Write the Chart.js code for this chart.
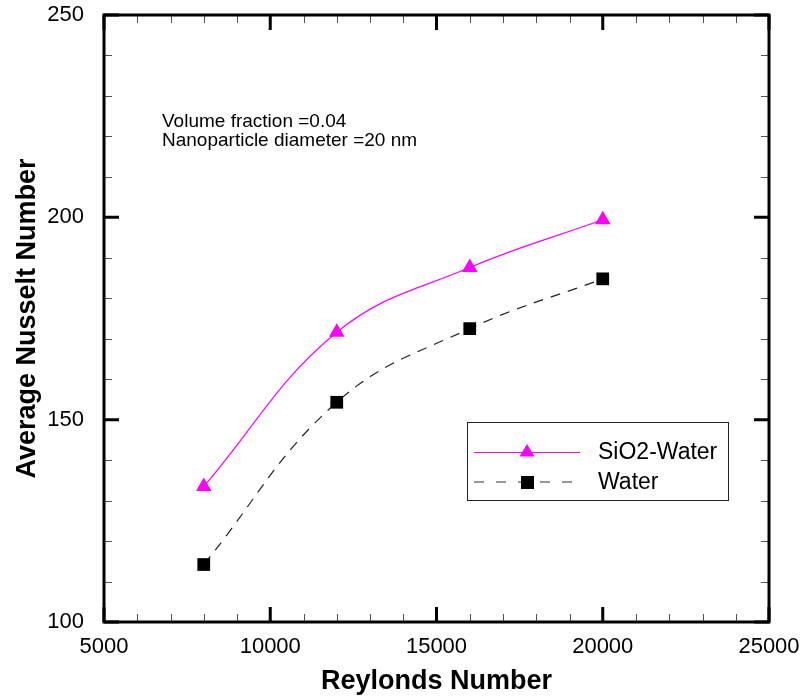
<!DOCTYPE html>
<html>
<head>
<meta charset="utf-8">
<script src="https://cdn.jsdelivr.net/npm/chart.js@4.4.1/dist/chart.umd.min.js"></script>
<style>
  html, body { margin: 0; padding: 0; background: #fff; }
  #wrap { width: 804px; height: 698px; }
</style>
</head>
<body>
<div id="wrap"><canvas id="c" width="804" height="698"></canvas></div>
<script>
const reynolds = [8000, 12000, 16000, 20000];
const nuSiO2Water = [133.5, 171.6, 187.6, 199.4];
const nuWater = [114.2, 154.3, 172.5, 184.8];
const seriesNames = ['SiO2-Water', 'Water'];
const xTickValues = [5000, 10000, 15000, 20000, 25000];
const yTickValues = [100, 150, 200, 250];
const noteLines = ['Volume fraction =0.04', 'Nanoparticle diameter =20 nm'];

const FONT = "'Liberation Sans', Arial, Helvetica, sans-serif";
const MAGENTA = '#ff00ff';

const toPts = (xs, ys) => xs.map((x, i) => ({ x: x, y: ys[i] }));

const framePlugin = {
  id: 'frame',
  afterDatasetsDraw(chart) {
    const ctx = chart.ctx;
    const a = chart.chartArea;
    const xs = chart.scales.x, ys = chart.scales.y;
    ctx.save();
    // minor ticks
    ctx.strokeStyle = '#555';
    ctx.lineWidth = 1;
    ctx.beginPath();
    for (let v = 5000; v <= 25000; v += 1000) {
      if (v % 5000 === 0) continue;
      const px = Math.round(xs.getPixelForValue(v)) + 0.5;
      ctx.moveTo(px, a.bottom); ctx.lineTo(px, a.bottom - 8);
      ctx.moveTo(px, a.top); ctx.lineTo(px, a.top + 8);
    }
    for (let v = 100; v <= 250; v += 10) {
      if (v % 50 === 0) continue;
      const py = Math.round(ys.getPixelForValue(v)) + 0.5;
      ctx.moveTo(a.left, py); ctx.lineTo(a.left + 8, py);
      ctx.moveTo(a.right, py); ctx.lineTo(a.right - 8, py);
    }
    ctx.stroke();
    // major ticks
    ctx.strokeStyle = '#000';
    ctx.lineWidth = 3;
    ctx.beginPath();
    xTickValues.forEach(v => {
      const px = xs.getPixelForValue(v);
      ctx.moveTo(px, a.bottom); ctx.lineTo(px, a.bottom - 15);
      ctx.moveTo(px, a.top); ctx.lineTo(px, a.top + 15);
    });
    yTickValues.forEach(v => {
      const py = ys.getPixelForValue(v);
      ctx.moveTo(a.left, py); ctx.lineTo(a.left + 15, py);
      ctx.moveTo(a.right, py); ctx.lineTo(a.right - 15, py);
    });
    ctx.stroke();
    // frame
    ctx.lineWidth = 3;
    ctx.strokeRect(a.left, a.top, a.right - a.left, a.bottom - a.top);

    // annotation text
    ctx.fillStyle = '#000';
    ctx.font = '19px ' + FONT;
    ctx.textAlign = 'left';
    ctx.textBaseline = 'middle';
    ctx.fillText(noteLines[0], 162, 122);
    ctx.fillText(noteLines[1], 162, 141);

    // legend
    const bx = 467, by = 422, bw = 261, bh = 78;
    ctx.lineWidth = 1;
    ctx.strokeStyle = '#222';
    ctx.strokeRect(bx + 0.5, by + 0.5, bw, bh);
    const r1 = 452, r2 = 482;
    ctx.strokeStyle = MAGENTA;
    ctx.beginPath(); ctx.moveTo(474, r1 + 0.5); ctx.lineTo(580, r1 + 0.5); ctx.stroke();
    ctx.fillStyle = MAGENTA;
    ctx.beginPath();
    ctx.moveTo(527, r1 - 8); ctx.lineTo(534.5, r1 + 4.5); ctx.lineTo(519.5, r1 + 4.5); ctx.closePath(); ctx.fill();
    ctx.strokeStyle = '#777';
    ctx.lineWidth = 1.5;
    ctx.setLineDash([10, 12]);
    ctx.beginPath(); ctx.moveTo(474, r2); ctx.lineTo(580, r2); ctx.stroke();
    ctx.setLineDash([]);
    ctx.fillStyle = '#000';
    ctx.fillRect(521, r2 - 6, 13, 13);
    ctx.font = '23px ' + FONT;
    ctx.textBaseline = 'middle';
    ctx.fillText(seriesNames[0], 598, r1 + 1);
    ctx.fillText(seriesNames[1], 598, r2 + 1);
    ctx.restore();
  }
};

new Chart(document.getElementById('c'), {
  type: 'scatter',
  data: {
    datasets: [
      {
        label: seriesNames[0],
        data: toPts(reynolds, nuSiO2Water),
        showLine: true,
        borderColor: MAGENTA,
        borderWidth: 1.2,
        backgroundColor: MAGENTA,
        pointStyle: 'triangle',
        pointRadius: 9,
        pointBorderWidth: 0,
        pointBackgroundColor: MAGENTA,
        tension: 0.4,
        order: 1
      },
      {
        label: seriesNames[1],
        data: toPts(reynolds, nuWater),
        showLine: true,
        borderColor: '#222',
        borderWidth: 1.2,
        borderDash: [10, 8],
        backgroundColor: '#000',
        pointStyle: 'rect',
        pointRadius: 9,
        pointBorderWidth: 0,
        pointBackgroundColor: '#000',
        tension: 0.4,
        order: 2
      }
    ]
  },
  options: {
    responsive: false,
    animation: false,
    events: [],
    layout: { padding: { left: 0, top: 15, right: 35, bottom: 0 } },
    plugins: { legend: { display: false }, tooltip: { enabled: false } },
    scales: {
      x: {
        type: 'linear',
        min: 5000, max: 25000,
        afterFit(s) { s.height = 76; s.paddingLeft = 0; s.paddingRight = 0; },
        afterBuildTicks(s) { s.ticks = xTickValues.map(v => ({ value: v })); },
        grid: { display: false, drawTicks: false },
        border: { display: false },
        ticks: { color: '#000', font: { family: FONT, size: 22 }, padding: 12, maxRotation: 0, autoSkip: false, callback: v => String(v) },
        title: { display: true, text: 'Reylonds Number', color: '#000', font: { family: FONT, size: 27, weight: 'bold' }, padding: { top: 0, bottom: 0 } }
      },
      y: {
        type: 'linear',
        min: 100, max: 250,
        afterFit(s) { s.width = 104; s.paddingTop = 0; s.paddingBottom = 0; },
        afterBuildTicks(s) { s.ticks = yTickValues.map(v => ({ value: v })); },
        grid: { display: false, drawTicks: false },
        border: { display: false },
        ticks: { color: '#000', font: { family: FONT, size: 22 }, padding: 20, callback: v => String(v) },
        title: { display: true, text: 'Average Nusselt Number', color: '#000', font: { family: FONT, size: 27, weight: 'bold' }, padding: { top: 11, bottom: 0 } }
      }
    }
  },
  plugins: [framePlugin]
});
</script>
</body>
</html>
